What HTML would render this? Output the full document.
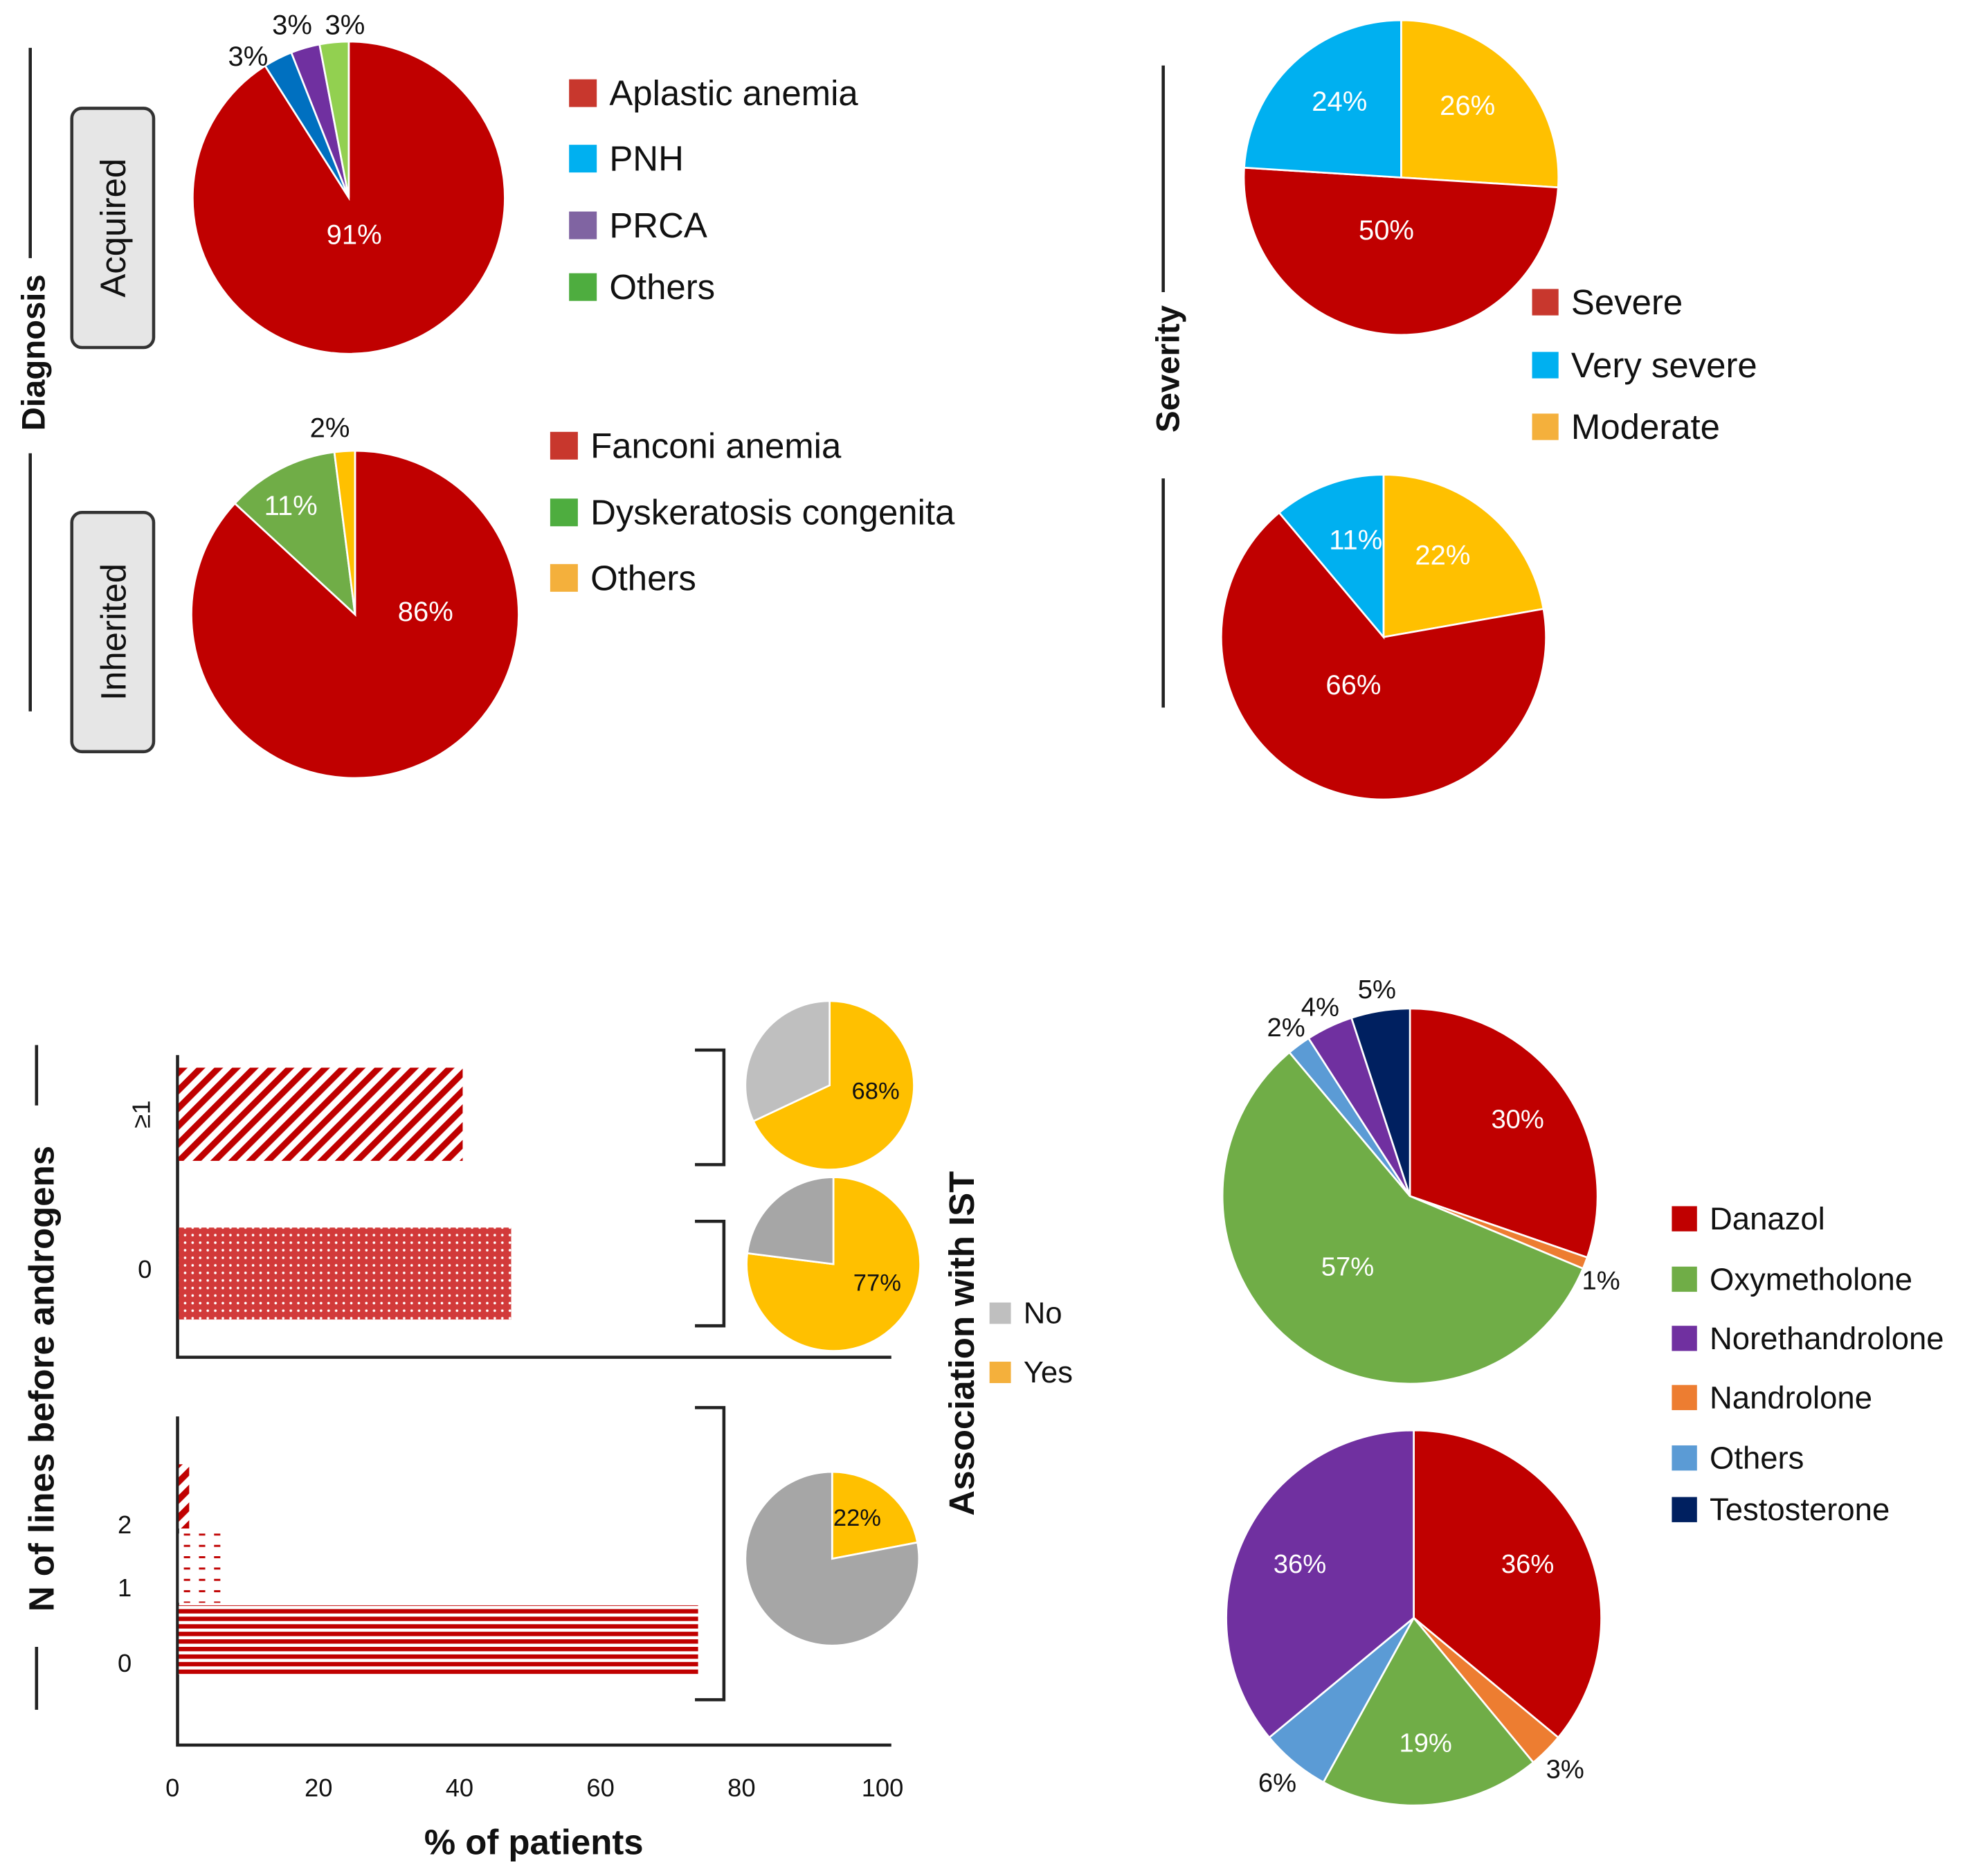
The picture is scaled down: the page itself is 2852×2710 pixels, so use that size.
<!DOCTYPE html>
<html><head><meta charset="utf-8">
<style>
html,body{margin:0;padding:0;background:#fff;}
svg{display:block;}
text{font-family:"Liberation Sans",sans-serif;}
</style></head>
<body>
<svg id="fig" xmlns="http://www.w3.org/2000/svg" width="2852" height="2710" viewBox="0 0 1568 1490">
<defs>
<pattern id="pDiag" patternUnits="userSpaceOnUse" width="10" height="10" patternTransform="rotate(45)">
<rect width="10" height="10" fill="#fff"/><rect width="5" height="10" fill="#c00000"/></pattern>
<pattern id="pDot" patternUnits="userSpaceOnUse" width="6" height="6">
<rect width="6" height="6" fill="#d23a3a"/><circle cx="3" cy="3" r="1" fill="#fff"/></pattern>
<pattern id="pHor" patternUnits="userSpaceOnUse" width="10" height="6">
<rect width="10" height="6" fill="#fff"/><rect width="10" height="3.5" fill="#c00000"/></pattern>
<pattern id="pDash" patternUnits="userSpaceOnUse" width="12" height="9">
<rect width="12" height="9" fill="#fff"/><rect x="2" y="3" width="5" height="1.6" fill="#c00000"/></pattern>
</defs>
<g id="root"></g>
</svg>
<script>
// ---------- data ----------
const acqLabels=["Aplastic anemia","PNH","PRCA","Others"];
const acqValues=[91,3,3,3];
const acqColors=["#c00000","#0070c0","#7030a0","#92d050"];
const inhLabels=["Fanconi  anemia","Dyskeratosis congenita","Others"];
const inhValues=[86,11,2];
const inhColors=["#c00000","#70ad47","#ffc000"];
const sevLabels=["Severe","Very severe","Moderate"];
const sev1Values=[50,24,26];
const sev2Values=[66,11,22];
const sevColors=["#c00000","#00b0f0","#ffc000"];
const barCats1=["≥1","0"];
const barVals1=[41,48];
const barCats2=["2","1","0"];
const barVals2=[1.5,6.5,75];
const xTicks=[0,20,40,60,80,100];
const istYes=[68,77,22];
const andLabels=["Danazol","Oxymetholone","Norethandrolone","Nandrolone","Others","Testosterone"];
const andColors=["#c00000","#70ad47","#7030a0","#ed7d31","#5b9bd5","#002060"];
const and1Values=[30,57,4,1,2,5];
const and2Values=[36,19,36,3,6,0];

const NS="http://www.w3.org/2000/svg";
const root=document.getElementById('root');
function mk(tag,attrs,parent){const e=document.createElementNS(NS,tag);for(const k in attrs)e.setAttribute(k,attrs[k]);(parent||root).appendChild(e);return e;}
function txt(x,y,s,size,opts){opts=opts||{};const t=mk('text',{x:x,y:y,'font-size':size,fill:opts.fill||'#111','text-anchor':opts.anchor||'middle','dominant-baseline':'central','font-weight':opts.bold?'bold':'normal'});if(opts.rot!==undefined)t.setAttribute('transform','rotate('+opts.rot+' '+x+' '+y+')');t.textContent=s;return t;}
function pt(cx,cy,r,deg){const a=(deg-90)*Math.PI/180;return [cx+r*Math.cos(a),cy+r*Math.sin(a)];}
function pie(cx,cy,r,slices,name){
  const g=mk('g',{});
  
  
  const tot=slices.reduce((s,x)=>s+x[0],0);let a=0;const mids=[];
  slices.forEach(s=>{
    const v=s[0];if(v<=0){mids.push(null);return;}
    const a2=a+v/tot*360;const p1=pt(cx,cy,r,a),p2=pt(cx,cy,r,a2);
    const large=(a2-a)>180?1:0;
    const p=mk('path',{d:`M${cx},${cy}L${p1[0]},${p1[1]}A${r},${r} 0 ${large} 1 ${p2[0]},${p2[1]}Z`,fill:s[1],stroke:'#fff','stroke-width':1.5},g);
    
    
    mids.push((a+a2)/2);a=a2;
  });
  return mids;
}
function legend(x,ys,labels,colors,size,sq,name){
  labels.forEach((l,i)=>{
    const r=mk('rect',{x:x,y:ys[i]-sq/2,width:sq,height:sq,fill:colors[i]});
    
    
    const t=txt(x+sq+10,ys[i],l,size,{anchor:'start'});
    
    
  });
}
function lbl(cx,cy,r,mid,s,white,size){const p=pt(cx,cy,r,mid);const t=txt(p[0],p[1],s,size||22,{fill:white?'#fff':'#111'});}

// ---------- Diagnosis ----------
mk('line',{x1:24,y1:38,x2:24,y2:205,stroke:'#222','stroke-width':2.5});
mk('line',{x1:24,y1:360,x2:24,y2:565,stroke:'#222','stroke-width':2.5});
let t=txt(27,280,"Diagnosis",26,{bold:true,rot:-90});
[["Acquired",86],["Inherited",407]].forEach(b=>{
  const r=mk('rect',{x:57,y:b[1],width:65,height:190,rx:8,fill:'#e6e6e6',stroke:'#333','stroke-width':2.5});
  
  txt(90,b[1]+95,b[0],28,{rot:-90});
});
let m=pie(277,157,124,[[acqValues[0],acqColors[0],'aplastic'],[acqValues[1],acqColors[1],'pnh'],[acqValues[2],acqColors[2],'prca'],[acqValues[3],acqColors[3],'others']],'acquired-pie');
lbl(277,157,30,m[0]+8,acqValues[0]+"%",true,22);
txt(197,45,acqValues[1]+"%",22);
txt(232,20,acqValues[2]+"%",22);
txt(274,20,acqValues[3]+"%",22);
legend(452,[74,126,179,228],acqLabels,["#c8372d","#00b0f0","#8064a2","#4ead3f"],28,22,'diagnosis-acquired-legend');
m=pie(282,488,130,[[inhValues[0],inhColors[0],'fanconi'],[inhValues[1],inhColors[1],'dyskeratosis'],[inhValues[2],inhColors[2],'others']],'inherited-pie');
txt(338,486,inhValues[0]+"%",22,{fill:'#fff'});
txt(231,402,inhValues[1]+"%",22,{fill:'#fff'});
txt(262,340,inhValues[2]+"%",22);
legend(437,[354,407,459],inhLabels,["#c8372d","#4ead3f","#f4b03c"],28,22,'diagnosis-inherited-legend');

// ---------- Severity ----------
mk('line',{x1:924,y1:52,x2:924,y2:232,stroke:'#222','stroke-width':2.5});
mk('line',{x1:924,y1:380,x2:924,y2:562,stroke:'#222','stroke-width':2.5});
t=txt(928,293,"Severity",26,{bold:true,rot:-90});
function sevPie(cx,cy,r,vals,name){
  const mm=pie(cx,cy,r,[[vals[2],sevColors[2],'moderate'],[vals[0],sevColors[0],'severe'],[vals[1],sevColors[1],'very-severe']],name);
  lbl(cx,cy,r*0.62,mm[0]-4,vals[2]+"%",true,22);
  lbl(cx,cy,r*0.35,mm[1]+12,vals[0]+"%",true,22);
  lbl(cx,cy,r*0.62,mm[2]+4,vals[1]+"%",true,22);
}
sevPie(1113,141,125,sev1Values,'severity-pie-acquired');
sevPie(1099,506,129,sev2Values,'severity-pie-inherited');
legend(1217,[240,290,339],sevLabels,["#c8372d","#00b0f0","#f4b03c"],28,21,'severity-legend');

// ---------- Bar chart ----------
const X0=141,XS=5.5;
function xs(v){return X0+v*XS;}
mk('path',{d:`M141,838V1078H708`,fill:'none',stroke:'#222','stroke-width':2.5});
mk('path',{d:`M141,1125V1386H708`,fill:'none',stroke:'#222','stroke-width':2.5});
const pats1=['pDiag','pDot'],bY1=[848,975],bH1=[74,73];
barCats1.forEach((c,i)=>{
  const r=mk('rect',{x:X0+1,y:bY1[i],width:xs(barVals1[i])-X0,height:bH1[i],fill:'url(#'+pats1[i]+')'});
  
});
txt(112,885,barCats1[0],20,{rot:-90});txt(115,1008,barCats1[1],20);
const pats2=['pDiag','pDash','pHor'],bY2=[1163,1218,1275],bH2=[51,55,55],lY2=[1211,1261,1321];
barCats2.forEach((c,i)=>{
  const r=mk('rect',{x:X0+1,y:bY2[i],width:xs(barVals2[i])-X0,height:bH2[i],fill:'url(#'+pats2[i]+')'});
  
  txt(99,lY2[i],c,20);
});
xTicks.forEach(v=>{const tt=txt(xs(v)+(v===0?-4:v/10),1420,String(v),20);});
t=txt(424,1463,"% of patients",28,{bold:true});
mk('line',{x1:29,y1:830,x2:29,y2:878,stroke:'#222','stroke-width':2.5});
mk('line',{x1:29,y1:1308,x2:29,y2:1358,stroke:'#222','stroke-width':2.5});
t=txt(33,1095,"N of lines before androgens",28,{bold:true,rot:-90});
[[834,925],[970,1053],[1118,1350]].forEach((b,i)=>{const p=mk('path',{d:`M552,${b[0]}H575V${b[1]}H552`,fill:'none',stroke:'#222','stroke-width':2.5});});
const istC=[[659,862,67,'#bfbfbf'],[662,1004,69,'#a6a6a6'],[661,1238,69,'#a6a6a6']];
istYes.forEach((v,i)=>{
  const c=istC[i];
  const mm=pie(c[0],c[1],c[2],[[v,'#ffc000','yes'],[100-v,c[3],'no']],'ist-pie-'+i);
  lbl(c[0],c[1],c[2]*0.55,mm[0]-(i===2?8:25),v+"%",false,19);
});
t=txt(764,1067,"Association with IST",28,{bold:true,rot:-90});
legend(786,[1043,1090],["No","Yes"],["#bfbfbf","#f4b03c"],24,17,'ist-legend');

// ---------- Androgens ----------
function andPie(cx,cy,r,vals,name){
  const order=[0,3,1,4,2,5];
  const mm=pie(cx,cy,r,order.map(i=>[vals[i],andColors[i],andLabels[i].toLowerCase()]),name);
  return {mm,order};
}
let A=andPie(1120,950,149,and1Values,'androgen-pie-top');
A.order.forEach((k,j)=>{const v=and1Values[k];if(!v)return;const big=v>=15;lbl(1120,950,big?(k===1?75:105):166,A.mm[j]+(k===3?3:0)+(k===1?5:0),v+"%",big,21);});
A=andPie(1123,1285,149,and2Values,'androgen-pie-bottom');
A.order.forEach((k,j)=>{const v=and2Values[k];if(!v)return;const big=v>=15;lbl(1123,1285,big?100:170,A.mm[j],v+"%",big,21);});
legend(1328,[968,1016,1063,1110,1158,1199],andLabels,andColors,25,20,'androgen-legend');
</script>
</body></html>
